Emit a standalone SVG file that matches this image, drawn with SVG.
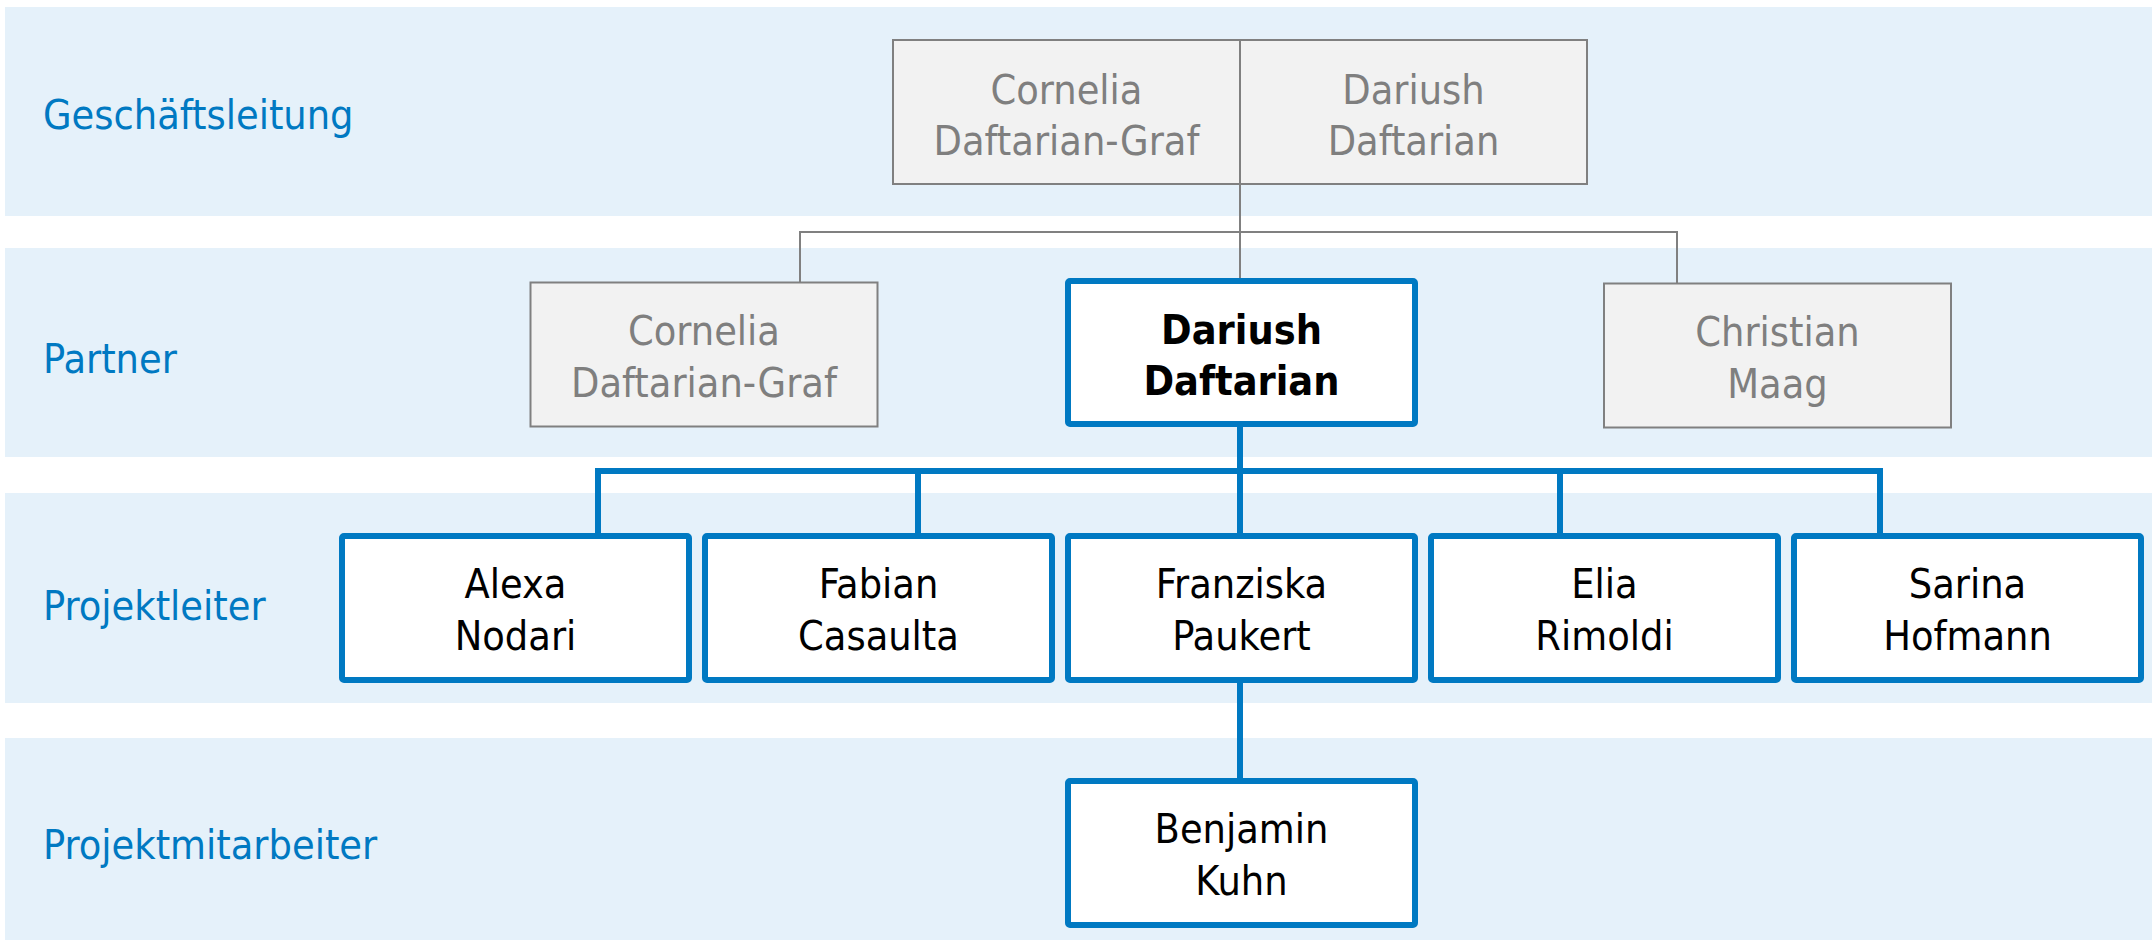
<svg xmlns="http://www.w3.org/2000/svg" width="2152" height="940" viewBox="0 0 2152 940">
<style>
.band{fill:#E5F1FA}
.lbl{font-family:"DejaVu Sans Condensed","DejaVu Sans",sans-serif;font-stretch:condensed;font-size:41px;fill:#0079C2}
.t{font-family:"DejaVu Sans Condensed","DejaVu Sans",sans-serif;font-stretch:condensed;font-size:41px;text-anchor:middle;fill:#000}
.g{fill:#7F7F7F}
.b{font-weight:bold}
.gbox{fill:#F2F2F2;stroke:#808080;stroke-width:2}
.bbox{fill:#FFFFFF;stroke:#0079C2;stroke-width:6}
.gl{fill:none;stroke:#808080;stroke-width:2}
.bl{fill:none;stroke:#0079C2;stroke-width:6}
</style>
<g id="bands">
<rect class="band" x="5" y="7" width="2147" height="209"/>
<rect class="band" x="5" y="248" width="2147" height="209"/>
<rect class="band" x="5" y="493" width="2147" height="210"/>
<rect class="band" x="5" y="738" width="2147" height="202"/>
<text class="lbl" x="43" y="129">Geschäftsleitung</text>
<text class="lbl" x="43" y="373">Partner</text>
<text class="lbl" x="43" y="620">Projektleiter</text>
<text class="lbl" x="43" y="859">Projektmitarbeiter</text>
</g>
<g id="connectors">
<path class="gl" d="M1240 184V281M800 282V232H1677V283"/>
<path class="bl" d="M1240 427V471M598 536V471H1880V536M918 471V536M1240 471V536M1560 471V536M1240 683V781"/>
</g>
<g id="gl-box">
<rect class="gbox" x="893" y="40" width="694" height="144"/>
<line class="gl" x1="1240" y1="40" x2="1240" y2="184"/>
<text class="t g" x="1066.5" y="104">Cornelia</text>
<text class="t g" x="1066.5" y="155">Daftarian-Graf</text>
<text class="t g" x="1413.5" y="104">Dariush</text>
<text class="t g" x="1413.5" y="155">Daftarian</text>
</g>
<g id="p-cornelia">
<rect class="gbox" x="530.5" y="282.5" width="347" height="144"/>
<text class="t g" x="704" y="345">Cornelia</text>
<text class="t g" x="704" y="397">Daftarian-Graf</text>
</g>
<g id="p-dariush">
<rect class="bbox" x="1068" y="281" width="347" height="143" rx="2"/>
<text class="t b" x="1241.5" y="344">Dariush</text>
<text class="t b" x="1241.5" y="395">Daftarian</text>
</g>
<g id="p-christian">
<rect class="gbox" x="1604" y="283.5" width="347" height="144"/>
<text class="t g" x="1777.5" y="346">Christian</text>
<text class="t g" x="1777.5" y="398">Maag</text>
</g>
<g id="pl-alexa">
<rect class="bbox" x="342" y="536" width="347" height="144" rx="2"/>
<text class="t" x="515.5" y="598">Alexa</text>
<text class="t" x="515.5" y="650">Nodari</text>
</g>
<g id="pl-fabian">
<rect class="bbox" x="705" y="536" width="347" height="144" rx="2"/>
<text class="t" x="878.5" y="598">Fabian</text>
<text class="t" x="878.5" y="650">Casaulta</text>
</g>
<g id="pl-franziska">
<rect class="bbox" x="1068" y="536" width="347" height="144" rx="2"/>
<text class="t" x="1241.5" y="598">Franziska</text>
<text class="t" x="1241.5" y="650">Paukert</text>
</g>
<g id="pl-elia">
<rect class="bbox" x="1431" y="536" width="347" height="144" rx="2"/>
<text class="t" x="1604.5" y="598">Elia</text>
<text class="t" x="1604.5" y="650">Rimoldi</text>
</g>
<g id="pl-sarina">
<rect class="bbox" x="1794" y="536" width="347" height="144" rx="2"/>
<text class="t" x="1967.5" y="598">Sarina</text>
<text class="t" x="1967.5" y="650">Hofmann</text>
</g>
<g id="pm-benjamin">
<rect class="bbox" x="1068" y="781" width="347" height="144" rx="2"/>
<text class="t" x="1241.5" y="843">Benjamin</text>
<text class="t" x="1241.5" y="895">Kuhn</text>
</g>
</svg>
